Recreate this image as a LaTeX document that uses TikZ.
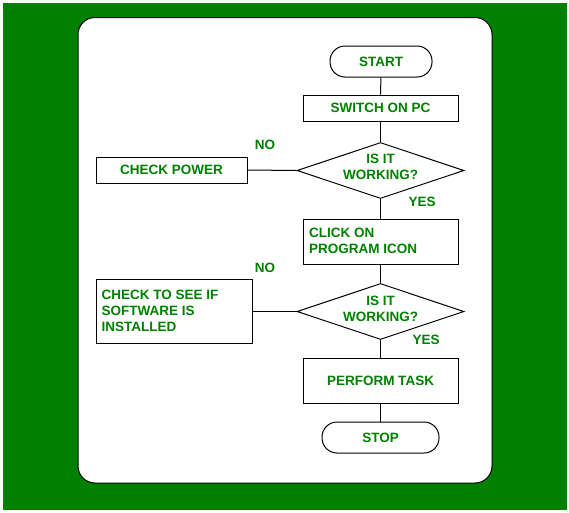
\documentclass[tikz,border=0pt]{standalone}
\usepackage{fontspec}
\setmainfont{Liberation Sans}
\usetikzlibrary{shapes.geometric}
\definecolor{bggreen}{RGB}{0,128,0}
\definecolor{txtgreen}{RGB}{0,128,0}
\begin{document}
\begin{tikzpicture}[x=1pt,y=-1pt,
  every node/.style={font=\fontsize{13.5}{16}\selectfont\bfseries, text=txtgreen},
  procbox/.style={draw=black, line width=1pt, fill=white, rectangle, minimum width=155pt, minimum height=#1, inner sep=0pt},
  termbox/.style={draw=black, line width=1pt, fill=white, rectangle, rounded corners=15pt, minimum height=31pt, minimum width=#1, inner sep=0pt},
  decbox/.style={draw=black, line width=1pt, fill=white, diamond, minimum width=167pt, minimum height=56pt, inner sep=0pt, aspect=3},
  lbl/.style={inner sep=0pt},
  conn/.style={draw=black, line width=1pt}]
\useasboundingbox (0,0) rectangle (569,512);
\fill[white] (0,0) rectangle (569,512);
\fill[bggreen] (3,3) rectangle (567,510);
\draw[black, line width=1pt, fill=white, rounded corners=17pt] (78,17.5) rectangle (492,483);

\node[termbox=102pt] (start) at (381,61.5) {START};
\node[procbox=26pt] (switch) at (380.5,108) {SWITCH ON PC};
\node[decbox] (d1) at (380.5,170.5) {};
\node[lbl, align=center] (d1txt) at (380.5,167) {IS IT\\WORKING?};
\node[procbox=45pt] (click) at (380.5,241.5) {};
\node[lbl, anchor=north west, align=left] (clicktxt) at (309,228) {CLICK ON\\PROGRAM ICON};
\node[decbox] (d2) at (380.5,311.5) {};
\node[lbl, align=center] (d2txt) at (380.5,308.5) {IS IT\\WORKING?};
\node[procbox=45pt] (perform) at (380.5,380.5) {PERFORM TASK};
\node[termbox=117pt] (stop) at (380.5,437.5) {STOP};

\node[draw=black, line width=1pt, fill=white, minimum width=151pt, minimum height=26pt, inner sep=0pt] (power) at (171.5,170) {CHECK POWER};
\node[draw=black, line width=1pt, fill=white, minimum width=156pt, minimum height=64pt, inner sep=0pt] (soft) at (174,311) {};
\node[lbl, anchor=north west, align=left] (softtxt) at (101.5,289.5) {CHECK TO SEE IF\\SOFTWARE IS\\INSTALLED};

\node[lbl] (no1) at (265,145) {NO};
\node[lbl] (no2) at (265,268) {NO};
\node[lbl] (yes1) at (422,202) {YES};
\node[lbl] (yes2) at (426,340) {YES};

\draw[conn] (start) -- (switch);
\draw[conn] (switch) -- (d1);
\draw[conn] (d1) -- (click);
\draw[conn] (click) -- (d2);
\draw[conn] (d2) -- (perform);
\draw[conn] (perform) -- (stop);
\draw[conn] (d1.west) -- (power.east);
\draw[conn] (d2.west) -- (soft.east |- d2.west);
\end{tikzpicture}
\end{document}
